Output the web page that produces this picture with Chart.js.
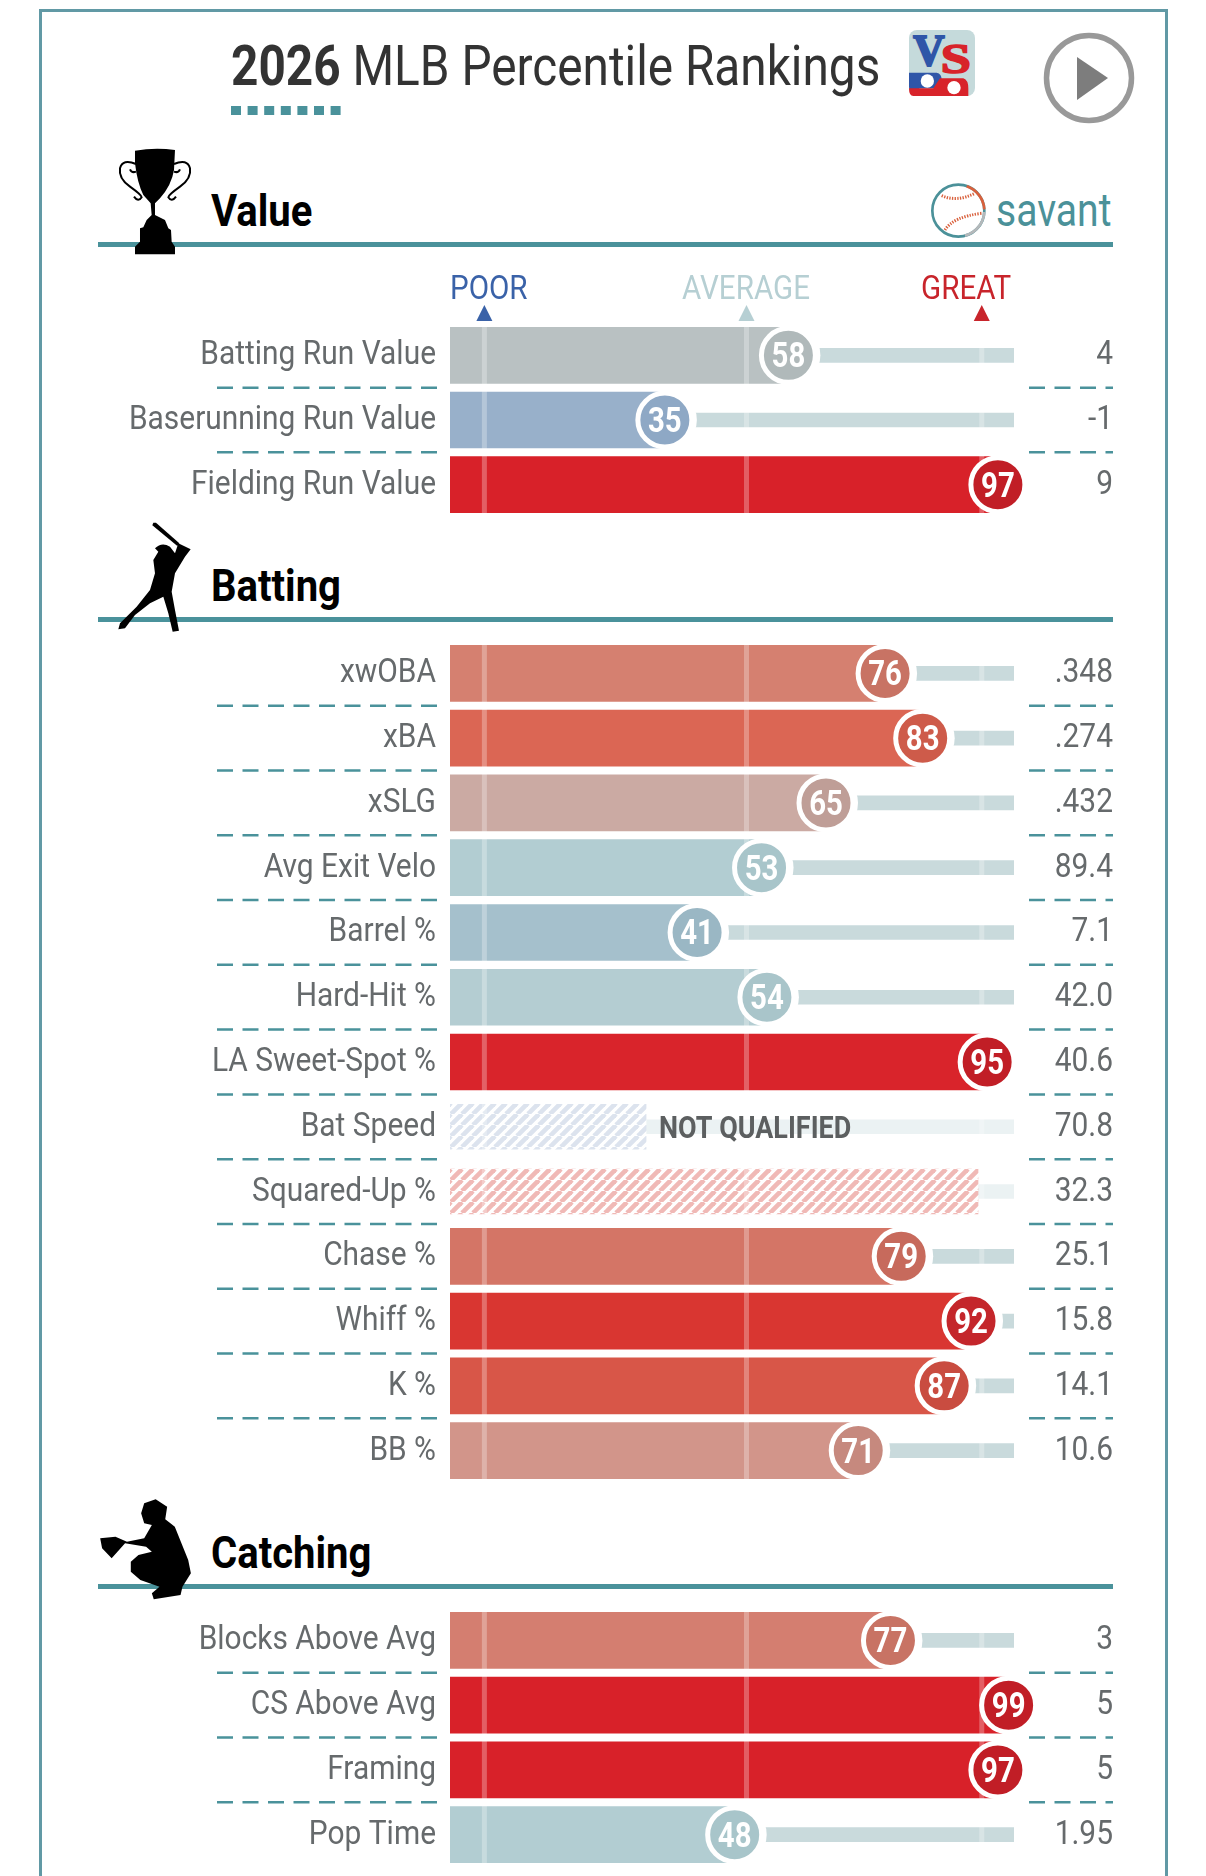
<!DOCTYPE html>
<html>
<head>
<meta charset="utf-8">
<title>2026 MLB Percentile Rankings</title>
<script src="https://cdn.jsdelivr.net/npm/chart.js@4"></script>
<style>
  html, body { margin: 0; padding: 0; background: #fff; }
  #page { position: relative; width: 1206px; height: 1876px; overflow: hidden; font-family: Roboto, sans-serif; }
  #page canvas { position: absolute; left: 0; }
  .frame { position: absolute; left: 39px; top: 9px; width: 1123px; height: 1900px; border: 3px solid #6199a5; }
  .txt { position: absolute; white-space: nowrap; transform-origin: 0 100%; line-height: 1; }
  .rule { position: absolute; left: 98px; width: 1015px; height: 5px; background: #4a929b; }
  svg { position: absolute; left: 0; top: 0; }
</style>
</head>
<body>
<div id="page">
  <div class="frame"></div>
  <div class="txt" style="left:231px;top:39px;font-size:55px;color:#333;transform:scaleX(.868)"><b>2026</b> MLB Percentile Rankings</div>
  <div class="txt" style="left:211px;top:189px;font-size:44px;font-weight:700;color:#000;transform:scaleX(.91)">Value</div>
  <div class="txt" style="left:211px;top:564px;font-size:44px;font-weight:700;color:#000;transform:scaleX(.91)">Batting</div>
  <div class="txt" style="left:211px;top:1531px;font-size:44px;font-weight:700;color:#000;transform:scaleX(.91)">Catching</div>
  <div class="txt" style="left:996px;top:187px;font-size:46px;color:#4b9199;transform:scaleX(.85)">savant</div>
  <div class="rule" style="top:242px"></div>
  <div class="rule" style="top:617px"></div>
  <div class="rule" style="top:1584px"></div>
  <svg width="1206" height="1876">
    <!-- title underline -->
    <path d="M231 110.5H342" stroke="#4a929b" stroke-width="9" stroke-dasharray="10 6.6"/>
    <!-- VS logo -->
    <g transform="translate(900 20) scale(.3333)">
      <rect x="27" y="30" width="198" height="198" rx="24" fill="#c5dadb"/>
      <path d="M42 215Q27 215 27 200V158H110Q125 160 125 180Q125 205 100 205H60Z" fill="#2f56a8"/>
      <path d="M40 228Q27 228 27 205H100L120 175H190Q205 180 205 205V228Z" fill="#d8232a"/>
      <circle cx="82" cy="183" r="20" fill="#fff"/>
      <circle cx="162" cy="203" r="20" fill="#fff"/>
      <text x="40" y="135" font-family="Liberation Serif" font-weight="700" font-size="130" stroke="#2f56a8" stroke-width="6" fill="#2f56a8">V</text>
      <text transform="translate(122 160) scale(1.3 1)" font-family="Liberation Serif" font-weight="700" font-size="125" stroke="#d8232a" stroke-width="5" fill="#d8232a">S</text>
    </g>
    <!-- play button -->
    <circle cx="1089" cy="78" r="42.5" fill="none" stroke="#999" stroke-width="5.5"/>
    <path d="M1077 57L1108 78L1077 100Z" fill="#7d7d7d"/>
    <!-- savant ball -->
    <g transform="translate(920 175) scale(.3333)" fill="none" stroke-width="8">
      <circle cx="115" cy="107" r="78" stroke="#4b9199"/>
      <path d="M140 34A78 78 0 0 1 193 103" stroke="#d9603c"/>
      <path d="M193 111A78 78 0 0 1 135 182" stroke="#b5b8ba"/>
      <path d="M65 62Q110 82 165 55M75 165Q100 125 185 115" stroke="#d9603c" stroke-width="9" stroke-dasharray="4 4"/>
    </g>
    <!-- trophy -->
    <g transform="translate(100 140) scale(.3333)">
      <path d="M105 32Q165 22 225 30L222 90Q215 135 180 175L165 190V225L195 240L205 265L213 270L215 305L225 320V343H105V320L120 305V265L130 262L140 240L155 225L152 190L130 165Q112 130 105 70Z" fill="#000"/>
      <path d="M222 72Q262 55 270 85Q275 115 240 140Q205 165 205 172Q215 188 228 170M108 72Q68 55 60 85Q55 115 90 140Q125 165 125 172Q115 188 102 170M240 88Q235 100 222 95M90 88Q95 100 108 95" fill="none" stroke="#000" stroke-width="6"/>
    </g>
    <!-- batter -->
    <g transform="translate(100 510) scale(.3333)">
      <path d="M160 38L168 38L238 100L232 108L157 46Z" fill="#000"/>
      <path d="M165 115Q185 95 210 110L225 130L235 100L272 118L255 140L225 190L215 245L225 300L237 362L218 365L205 310L190 260L150 280L105 315L75 355L55 358L60 340L110 290L150 240L165 190L160 150L175 125Z" fill="#000"/>
    </g>
    <!-- catcher -->
    <g transform="translate(60 1460) scale(.3827 .3333)">
      <path d="M220 130L250 118L280 140L275 178L300 200L335 300L342 340L320 380L315 405L245 418L240 400L260 380L210 360L185 335L185 305L205 285L240 275L225 260L170 250L135 295L110 265L105 235L145 230L175 245L220 235L240 195L220 190L212 160Z" fill="#000"/>
    </g>
  </svg>
  <canvas id="valueChart" width="1206" height="254" style="top:263px"></canvas>
  <canvas id="battingChart" width="1206" height="842" style="top:641px"></canvas>
  <canvas id="catchingChart" width="1206" height="259" style="top:1608px"></canvas>
</div>
<script>
const valueLabels = ['Batting Run Value', 'Baserunning Run Value', 'Fielding Run Value'];
const valuePercentiles = [58, 35, 97];
const valueStats = ['4', '-1', '9'];
const valueBarColors = ['#b9c1c2', '#98b0ca', '#d82129'];
const valueDotColors = ['#b0b9ba', '#8ea8c5', '#c11e26'];

const battingLabels = ['xwOBA', 'xBA', 'xSLG', 'Avg Exit Velo', 'Barrel %', 'Hard-Hit %', 'LA Sweet-Spot %', 'Bat Speed', 'Squared-Up %', 'Chase %', 'Whiff %', 'K %', 'BB %'];
const battingPercentiles = [76, 83, 65, 53, 41, 54, 95, null, null, 79, 92, 87, 71];
const battingHatched = [null, null, null, null, null, null, null, 31.5, 93.3, null, null, null, null];
const battingStats = ['.348', '.274', '.432', '89.4', '7.1', '42.0', '40.6', '70.8', '32.3', '25.1', '15.8', '14.1', '10.6'];
const battingBarColors = ['#d58070', '#db6654', '#cbaaa3', '#b2cdd2', '#a5c0cc', '#b4cdd2', '#d9242b', '#dce3ee', '#f0b9b6', '#d47566', '#d93631', '#d85648', '#d2958a'];
const battingDotColors = ['#c87364', '#ce5b4a', '#bf9e97', '#a8c5ca', '#9ab7c4', '#a9c5ca', '#c11e26', null, null, '#c76a5c', '#c4262b', '#c94c40', '#c6897e'];

const catchingLabels = ['Blocks Above Avg', 'CS Above Avg', 'Framing', 'Pop Time'];
const catchingPercentiles = [77, 99, 97, 48];
const catchingStats = ['3', '5', '5', '1.95'];
const catchingBarColors = ['#d47e70', '#d82129', '#d82129', '#b2cdd2'];
const catchingDotColors = ['#c87364', '#c11e26', '#c11e26', '#a8c5ca'];

const guideMarks = [1.4, 50.2, 94];
const guideLabels = ['POOR', 'AVERAGE', 'GREAT'];
const guideColors = ['#3a62a8', '#b6cfd3', '#c8242b'];

function hatch(color) {
    const c = document.createElement('canvas');
    c.width = 11;
    c.height = 11;
    const g = c.getContext('2d');
    g.fillStyle = '#fff';
    g.fillRect(0, 0, 11, 11);
    g.strokeStyle = color;
    g.lineWidth = 4.6;
    [-11, 0, 11].forEach(o => {
        g.beginPath();
        g.moveTo(o, 11);
        g.lineTo(o + 11, 0);
        g.stroke();
    });
    return g.createPattern(c, 'repeat');
}

// Roboto squeezed sideways stands in for the condensed face of the original
function narrowText(ctx, text, x, y, font, color, align, squeeze) {
    ctx.save();
    ctx.font = font;
    ctx.fillStyle = color;
    ctx.textAlign = align;
    ctx.textBaseline = 'alphabetic';
    ctx.translate(x, y);
    ctx.scale(squeeze, 1);
    ctx.fillText(text, 0, 0);
    ctx.restore();
}

const rowPlugin = {
    id: 'rowPlugin',
    beforeDatasetDraw(chart, args) {
        // guide stripes go over the bars but under the dots
        if (args.index !== 4) return;
        const { ctx, chartArea } = chart;
        ctx.save();
        ctx.fillStyle = 'rgba(255,255,255,0.28)';
        guideMarks.forEach(m => {
            const x = chart.scales.x.getPixelForValue(m);
            ctx.fillRect(x - 2.5, chartArea.top, 5, chartArea.bottom - chartArea.top);
        });
        ctx.restore();
    },
    afterDatasetsDraw(chart, args, opts) {
        const { ctx } = chart;
        const { x: xs, y: ys } = chart.scales;
        const count = opts.labels.length;
        opts.labels.forEach((label, i) => {
            const y = ys.getPixelForValue(i);
            narrowText(ctx, label, 436, y + 9, '34px Roboto', '#666a6c', 'right', 0.88);
            narrowText(ctx, opts.stats[i], 1113, y + 9, '34px Roboto', '#666a6c', 'right', 0.88);
            const v = opts.percentiles[i];
            if (v !== null) {
                narrowText(ctx, String(v), xs.getPixelForValue(v), y + 12, '700 35px Roboto', '#fff', 'center', 0.84);
            }
            if (opts.notQualified[i]) {
                narrowText(ctx, 'NOT QUALIFIED', 659, y + 11, '700 31px Roboto', '#5c5f60', 'left', 0.87);
            }
            if (i < count - 1) {
                const lineY = y + (ys.getPixelForValue(1) - ys.getPixelForValue(0)) / 2;
                ctx.save();
                ctx.strokeStyle = '#4a929b';
                ctx.lineWidth = 2.5;
                ctx.setLineDash([16, 9.5]);
                ctx.beginPath();
                ctx.moveTo(217, lineY);
                ctx.lineTo(437, lineY);
                ctx.stroke();
                ctx.beginPath();
                ctx.moveTo(1029, lineY);
                ctx.lineTo(1113, lineY);
                ctx.stroke();
                ctx.restore();
            }
        });
        if (opts.showGuides) {
            guideMarks.forEach((m, i) => {
                const x = xs.getPixelForValue(m);
                ctx.fillStyle = guideColors[i];
                ctx.beginPath();
                ctx.moveTo(x, 42);
                ctx.lineTo(x + 8, 58);
                ctx.lineTo(x - 8, 58);
                ctx.closePath();
                ctx.fill();
            });
            const anchors = [450, 682, 921];
            guideLabels.forEach((t, i) => {
                narrowText(ctx, t, anchors[i], 36, '34px Roboto', guideColors[i], 'left', 0.87);
            });
        }
    }
};

function makeChart(id, labels, percentiles, hatched, stats, barColors, dotColors, topPad) {
    const trackColors = percentiles.map(v => v === null ? '#ebf2f3' : '#c9dadc');
    const fills = barColors.map((c, i) => hatched && hatched[i] !== null ? hatch(c) : c);
    const isHatched = hatched || labels.map(() => null);
    new Chart(document.getElementById(id), {
        type: 'bar',
        data: {
            labels: labels,
            datasets: [
                { type: 'bar', data: labels.map(() => 100), base: -5, grouped: false, barThickness: 14, backgroundColor: trackColors, order: 5 },
                { type: 'line', data: percentiles, showLine: false, pointRadius: 32, pointBackgroundColor: '#fff', pointBorderWidth: 0, clip: false, order: 4 },
                { type: 'bar', data: percentiles, base: -5, grouped: false, barThickness: 56, backgroundColor: fills, order: 3 },
                { type: 'bar', data: isHatched, base: -5, grouped: false, barThickness: 45, backgroundColor: fills, order: 3 },
                { type: 'line', data: percentiles, showLine: false, pointRadius: 27, pointBackgroundColor: dotColors, pointBorderColor: '#fff', pointBorderWidth: 5, clip: false, order: 1 }
            ]
        },
        options: {
            indexAxis: 'y',
            responsive: false,
            animation: false,
            layout: { autoPadding: false, padding: { left: 450, right: 192, top: topPad, bottom: 0 } },
            scales: {
                x: { type: 'linear', min: -5, max: 100, display: false },
                y: { display: false }
            },
            plugins: {
                legend: { display: false },
                tooltip: { enabled: false },
                rowPlugin: {
                    labels: labels,
                    stats: stats,
                    percentiles: percentiles,
                    notQualified: labels.map(l => l === 'Bat Speed'),
                    showGuides: topPad > 0
                }
            }
        },
        plugins: [rowPlugin]
    });
}

makeChart('valueChart', valueLabels, valuePercentiles, null, valueStats, valueBarColors, valueDotColors, 60);
makeChart('battingChart', battingLabels, battingPercentiles, battingHatched, battingStats, battingBarColors, battingDotColors, 0);
makeChart('catchingChart', catchingLabels, catchingPercentiles, null, catchingStats, catchingBarColors, catchingDotColors, 0);
</script>
</body>
</html>
